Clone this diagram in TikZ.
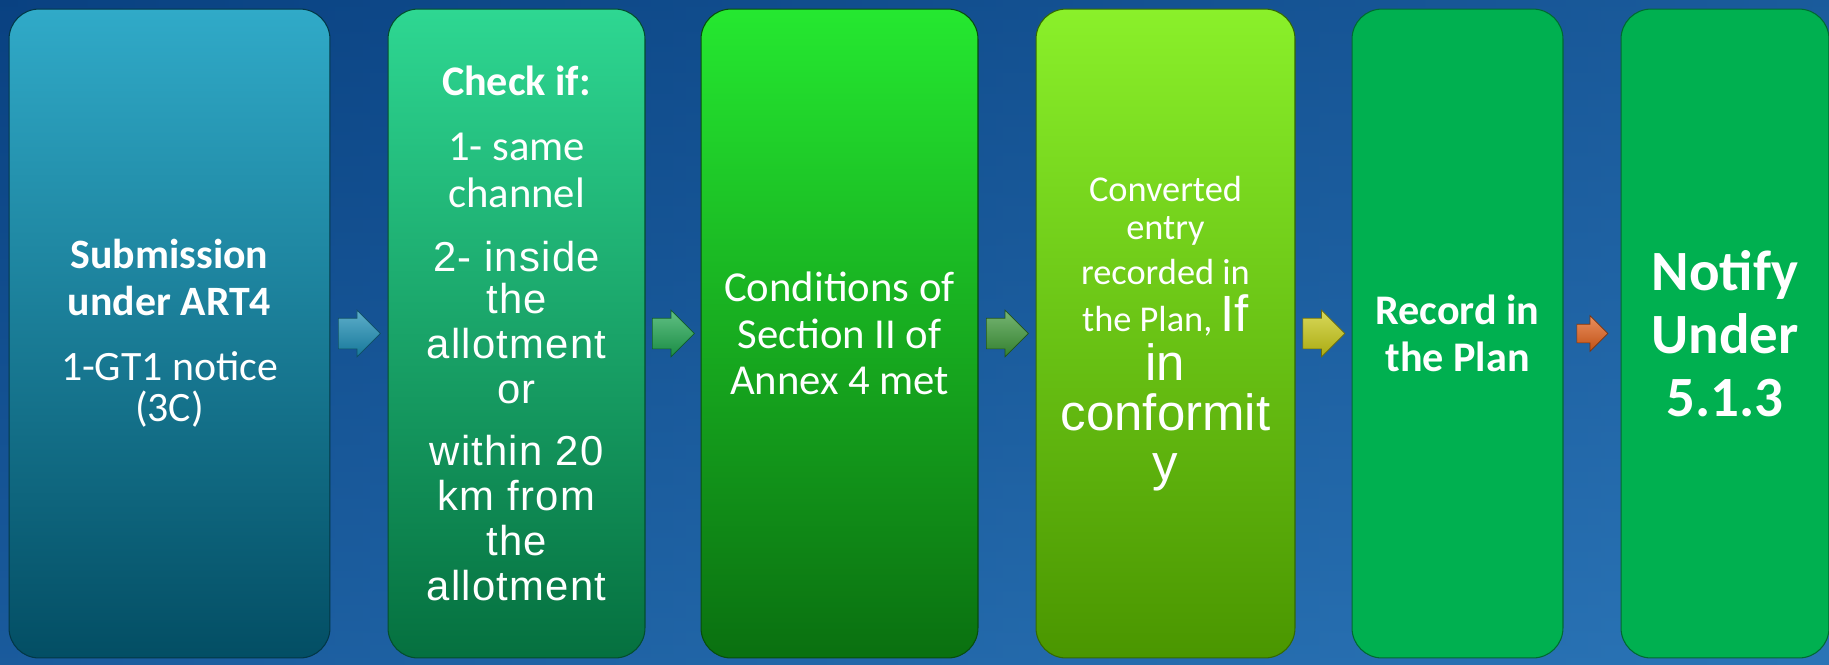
\documentclass[tikz,border=0pt]{standalone}
\usepackage{fontspec}
\setmainfont{Carlito}
\newfontfamily\arialfont{Liberation Sans}
\newfontfamily\arialspfont[LetterSpace=3]{Liberation Sans}
\usetikzlibrary{shapes.arrows,calc}

\definecolor{bgleft}{RGB}{12,70,135}
\definecolor{bgright}{RGB}{46,122,188}
\definecolor{bgtop}{RGB}{8,62,125}
\definecolor{bgbottom}{RGB}{40,112,178}
\definecolor{subtop}{RGB}{48,170,200}
\definecolor{subbot}{RGB}{3,78,100}
\definecolor{chktop}{RGB}{46,215,146}
\definecolor{chkbot}{RGB}{5,112,63}
\definecolor{contop}{RGB}{37,232,48}
\definecolor{conbot}{RGB}{10,112,16}
\definecolor{cnvtop}{RGB}{138,240,42}
\definecolor{cnvbot}{RGB}{74,150,0}
\definecolor{recgreen}{RGB}{0,176,80}
\definecolor{arrteal}{RGB}{25,140,180}
\definecolor{arrmint}{RGB}{30,165,80}
\definecolor{arrgreen}{RGB}{60,150,55}
\definecolor{arryellow}{RGB}{200,200,20}
\definecolor{arrorange}{RGB}{225,95,25}

\newcommand{\nar}[1]{{\arialspfont #1}}
\newcommand{\chkline}[1]{{\fontsize{24.3pt}{25.5pt}\selectfont #1}}
\newcommand{\bigar}[1]{{\arialfont\fontsize{29pt}{29pt}\selectfont #1}}

\tikzset{
  stepbox/.style={rounded corners=0.6cm, inner sep=0pt, outer sep=0pt,
    minimum height=12.98cm, text=white, align=center, line width=0.6pt},
  flowarrow/.style={single arrow, single arrow head extend=0.16cm, anchor=tail,
    text height=0.3cm, text depth=0.3cm, minimum height=0.84cm, inner sep=0pt,
    top color=#1!70!white, bottom color=#1!85!black, draw=#1!55!black}
}

\begin{document}
\begin{tikzpicture}[x=0.02cm,y=-0.02cm]
\useasboundingbox (0,0) rectangle (1829,664);

% background
\shade[left color=bgleft, right color=bgright] (0,0) rectangle (1829,664);
\shade[top color=bgtop, bottom color=bgbottom, opacity=0.5] (0,0) rectangle (1829,664);

% the six steps
\node[stepbox, minimum width=6.42cm, top color=subtop, bottom color=subbot,
  draw=subbot!70!black, font=\fontsize{23.8pt}{26.5pt}\selectfont]
  (sub) at (169.5,333.5)
  {{\bfseries Submission}\\ {\bfseries under ART4}\\[10.5pt] 1-GT1 notice\\[-3pt] (3C)};

\node[stepbox, minimum width=5.14cm, top color=chktop, bottom color=chkbot,
  draw=chkbot!70!black, font=\fontsize{23.8pt}{25.5pt}\selectfont]
  (chk) at (516.5,333.5)
  {{\fontsize{24pt}{25.5pt}\selectfont\bfseries Check if:}\\[11.3pt]
   \chkline{1- same}\\[1.1pt] \chkline{channel}\\[11.3pt]
   \nar{2- inside}\\[-1.7pt] \nar{the}\\ \nar{allotment}\\ \nar{or}\\[10.2pt]
   \nar{within 20}\\ \nar{km from}\\ \nar{the}\\ \nar{allotment}};

\node[stepbox, minimum width=5.54cm, top color=contop, bottom color=conbot,
  draw=conbot!70!black, font=\fontsize{24.3pt}{26.3pt}\selectfont]
  (con) at (839.5,333.5)
  {Conditions of\\ Section II of\\ Annex 4 met};

\node[stepbox, minimum width=5.18cm, top color=cnvtop, bottom color=cnvbot,
  draw=cnvbot!70!black, font=\fontsize{20.7pt}{28.3pt}\selectfont]
  (cnv) at (1165.5,333.5)
  {Converted\\[-6.8pt] entry\\[-2.8pt] recorded in\\[-1.1pt] the Plan, \bigar{If}\\[-0.5pt]
   \bigar{in}\\ \bigar{conformit}\\ \bigar{y}};

\node[stepbox, minimum width=4.22cm, fill=recgreen, draw=recgreen!60!black,
  font=\fontsize{24pt}{26.6pt}\selectfont\bfseries]
  (rec) at (1457.5,333.5)
  {Record in\\ the Plan};

\node[stepbox, minimum width=4.16cm, fill=recgreen, draw=recgreen!60!black,
  font=\fontsize{32.4pt}{35.8pt}\selectfont\bfseries]
  (ntf) at (1725,333.5)
  {Notify\\ Under\\ 5.1.3};

% arrows between the steps (tail put half a length before the gap middle)
\node[flowarrow=arrteal] (a1) at ($(sub.east)!0.5!(chk.west)+(-21,0)$) {};
\node[flowarrow=arrmint] (a2) at ($(chk.east)!0.5!(con.west)+(-21,0)$) {};
\node[flowarrow=arrgreen] (a3) at ($(con.east)!0.5!(cnv.west)+(-21,0)$) {};
\node[flowarrow=arryellow] (a4) at ($(cnv.east)!0.5!(rec.west)+(-21,0)$) {};
\node[flowarrow=arrorange, text height=0.18cm, text depth=0.18cm,
  minimum height=0.62cm, single arrow head extend=0.17cm]
  (a5) at ($(rec.east)!0.5!(ntf.west)+(-15.5,0)$) {};

\end{tikzpicture}
\end{document}
